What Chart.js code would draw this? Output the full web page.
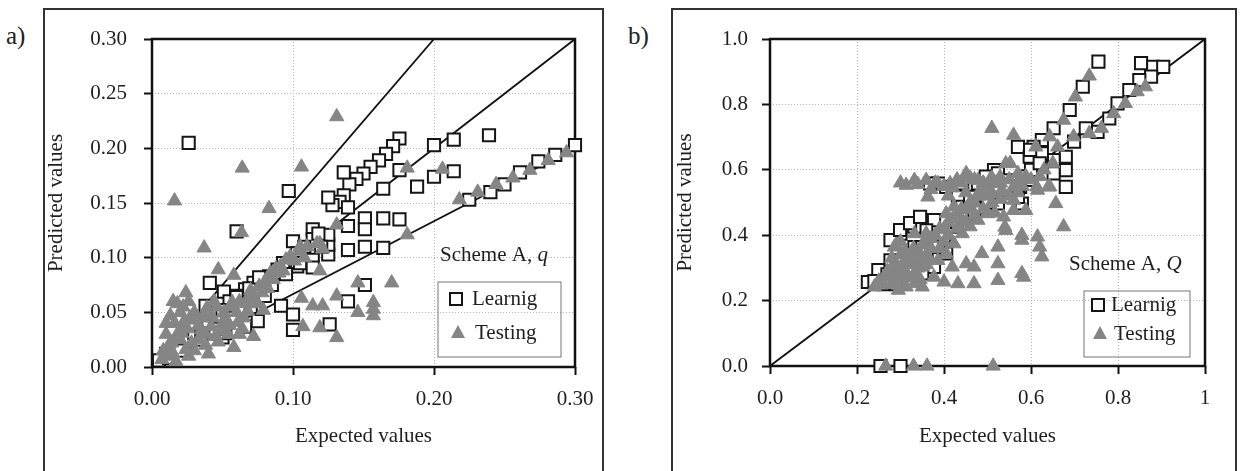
<!DOCTYPE html>
<html>
<head>
<meta charset="utf-8">
<script src="https://cdn.jsdelivr.net/npm/chart.js@4.4.1/dist/chart.umd.min.js"></script>
<style>
  html, body { margin: 0; padding: 0; background: #fff; }
  body { width: 1244px; height: 471px; position: relative; overflow: hidden;
         font-family: "Liberation Serif", "Times New Roman", serif; color: #222; }
  .panel { position: absolute; top: 8px; height: 470px; border: 2px solid #333;
           border-bottom: none; box-sizing: border-box; }
  .tag { position: absolute; top: 23px; font-size: 25px; line-height: 25px; }
  .wrap { position: absolute; top: 0; height: 471px; }
</style>
</head>
<body>
<div class="panel" style="left:43px;width:561px"></div>
<div class="panel" style="left:671px;width:566px"></div>
<div class="tag" style="left:6px">a)</div>
<div class="tag" style="left:628px">b)</div>
<div class="wrap" style="left:0;width:620px"><canvas id="chartA"></canvas></div>
<div class="wrap" style="left:620px;width:624px"><canvas id="chartB"></canvas></div>

<script>
// ---- panel a) : Scheme A, q ----
const ticksAx = ['0.00', '0.10', '0.20', '0.30'];
const ticksAy = ['0.00', '0.05', '0.10', '0.15', '0.20', '0.25', '0.30'];

const learnA = [
  [0.026,0.205],[0.097,0.161],[0.060,0.124],[0.041,0.077],[0.051,0.069],[0.239,0.212],
  [0.1755,0.209],[0.171,0.202],[0.166,0.195],[0.161,0.189],[0.155,0.183],[0.150,0.177],
  [0.145,0.172],[0.140,0.167],[0.136,0.178],[0.136,0.157],[0.133,0.151],[0.128,0.148],
  [0.139,0.146],[0.125,0.155],[0.200,0.203],[0.214,0.208],[0.214,0.179],[0.200,0.174],
  [0.1755,0.180],[0.188,0.165],[0.164,0.163],[0.151,0.136],[0.151,0.126],[0.164,0.136],
  [0.1755,0.135],[0.139,0.129],[0.164,0.109],[0.151,0.110],[0.139,0.107],[0.125,0.103],
  [0.125,0.112],[0.125,0.121],[0.114,0.126],[0.114,0.117],[0.114,0.098],[0.114,0.091],
  [0.100,0.115],[0.103,0.104],[0.103,0.092],[0.093,0.095],[0.089,0.089],[0.083,0.083],
  [0.078,0.080],[0.072,0.077],[0.066,0.071],[0.061,0.065],[0.055,0.060],[0.0915,0.056],
  [0.100,0.048],[0.100,0.034],[0.126,0.039],[0.139,0.060],[0.151,0.075],[0.075,0.042],
  [0.038,0.056],[0.050,0.027],[0.225,0.153],[0.240,0.160],[0.250,0.167],[0.261,0.178],
  [0.274,0.188],[0.286,0.194],[0.300,0.203],[0.005,0.006],[0.010,0.012],[0.015,0.016],
  [0.020,0.022],[0.025,0.027],[0.030,0.031],[0.035,0.036],[0.040,0.042],[0.045,0.047],
  [0.050,0.052],[0.060,0.064],[0.069,0.072],[0.076,0.082],[0.066,0.037],[0.052,0.031],
  [0.030,0.040],[0.020,0.015],[0.012,0.008],[0.035,0.025],[0.045,0.035],[0.058,0.045],
  [0.070,0.055],[0.080,0.065],[0.085,0.075],[0.095,0.085],[0.105,0.095],[0.108,0.110],
  [0.118,0.122],[0.120,0.110]
];

const testA = [
  [0.131,0.229],[0.064,0.182],[0.106,0.183],[0.016,0.152],[0.083,0.145],[0.0635,0.123],
  [0.037,0.109],[0.181,0.182],[0.206,0.181],[0.181,0.121],[0.131,0.130],[0.170,0.077],
  [0.146,0.077],[0.131,0.065],[0.119,0.088],[0.106,0.063],[0.107,0.037],[0.119,0.036],
  [0.131,0.027],[0.146,0.050],[0.157,0.059],[0.157,0.053],[0.157,0.047],[0.121,0.056],
  [0.114,0.056],[0.119,0.113],[0.105,0.110],[0.047,0.089],[0.058,0.084],[0.024,0.068],
  [0.013,0.047],[0.039,0.054],[0.051,0.050],[0.068,0.051],[0.079,0.052],[0.072,0.028],
  [0.058,0.018],[0.047,0.023],[0.035,0.034],[0.021,0.031],[0.014,0.022],[0.012,0.010],
  [0.028,0.022],[0.061,0.041],[0.057,0.059],[0.069,0.065],[0.076,0.074],[0.083,0.083],
  [0.091,0.092],[0.031,0.043],[0.042,0.037],[0.024,0.016],[0.007,0.007],[0.018,0.058],
  [0.020,0.050],[0.026,0.060],[0.016,0.040],[0.030,0.050],[0.036,0.045],[0.044,0.060],
  [0.050,0.040],[0.054,0.030],[0.064,0.035],[0.020,0.025],[0.030,0.015],[0.040,0.012],
  [0.010,0.030],[0.098,0.101],[0.104,0.106],[0.110,0.110],[0.117,0.113],[0.121,0.108],
  [0.108,0.100],[0.095,0.098],[0.088,0.090],[0.084,0.086],[0.101,0.097],[0.218,0.153],
  [0.231,0.160],[0.244,0.167],[0.256,0.173],[0.268,0.180],[0.281,0.189],[0.294,0.196],
  [0.008,0.015],[0.012,0.020],[0.015,0.012],[0.018,0.030],[0.022,0.040],[0.025,0.035],
  [0.027,0.045],[0.033,0.038],[0.033,0.025],[0.038,0.030],[0.040,0.050],[0.043,0.045],
  [0.046,0.055],[0.049,0.033],[0.052,0.045],[0.055,0.055],[0.060,0.050],[0.062,0.060],
  [0.065,0.045],[0.067,0.058],[0.070,0.070],[0.073,0.062],[0.075,0.058],[0.078,0.068],
  [0.080,0.078],[0.082,0.072],[0.086,0.080],[0.090,0.086],[0.093,0.088],[0.055,0.038],
  [0.045,0.028],[0.038,0.020],[0.026,0.010],[0.017,0.005],[0.062,0.030],[0.010,0.040],
  [0.015,0.060],[0.022,0.055]
];

const lineA1 = [[0, 0], [0.3, 0.3]];
const lineA2 = [[0, 0], [0.2, 0.3]];
const lineA3 = [[0, 0], [0.3, 0.2]];

// ---- panel b) : Scheme A, Q ----
const ticksBx = ['0.0', '0.2', '0.4', '0.6', '0.8', '1'];
const ticksBy = ['0.0', '0.2', '0.4', '0.6', '0.8', '1.0'];

const learnB = [
  [0.755,0.931],[0.719,0.854],[0.689,0.783],[0.652,0.727],[0.625,0.691],[0.606,0.670],
  [0.570,0.670],[0.853,0.926],[0.881,0.915],[0.904,0.915],[0.876,0.885],[0.849,0.874],
  [0.826,0.844],[0.799,0.803],[0.780,0.757],[0.753,0.716],[0.726,0.727],[0.699,0.686],
  [0.680,0.640],[0.680,0.599],[0.680,0.548],[0.652,0.630],[0.652,0.589],[0.625,0.609],
  [0.625,0.650],[0.597,0.640],[0.598,0.661],[0.602,0.569],[0.575,0.548],[0.515,0.599],
  [0.496,0.579],[0.487,0.548],[0.524,0.497],[0.487,0.487],[0.469,0.487],[0.451,0.466],
  [0.423,0.426],[0.396,0.405],[0.377,0.446],[0.359,0.415],[0.332,0.426],[0.300,0.405],
  [0.277,0.385],[0.277,0.323],[0.249,0.293],[0.225,0.257],[0.258,0.252],[0.377,0.303],
  [0.350,0.283],[0.332,0.364],[0.350,0.364],[0.386,0.364],[0.405,0.344],[0.405,0.548],
  [0.386,0.558],[0.368,0.558],[0.442,0.558],[0.478,0.558],[0.524,0.589],[0.542,0.568],
  [0.561,0.548],[0.579,0.497],[0.570,0.517],[0.533,0.538],[0.432,0.517],[0.442,0.487],
  [0.460,0.517],[0.299,0.416],[0.322,0.437],[0.345,0.456],[0.330,0.330],[0.360,0.350],
  [0.400,0.390],[0.430,0.440],[0.470,0.470],[0.500,0.500],[0.520,0.530],[0.550,0.550],
  [0.580,0.580],[0.600,0.600],[0.620,0.620],[0.300,0.300],[0.270,0.280],[0.240,0.260],
  [0.260,0.250],[0.290,0.250],[0.254,0],[0.300,0]
];

const testB = [
  [0.734,0.887],[0.702,0.823],[0.675,0.752],[0.510,0.727],[0.560,0.706],[0.643,0.701],
  [0.611,0.670],[0.661,0.670],[0.698,0.701],[0.734,0.711],[0.762,0.727],[0.790,0.772],
  [0.817,0.803],[0.844,0.839],[0.863,0.854],[0.675,0.426],[0.657,0.497],[0.620,0.364],
  [0.625,0.334],[0.615,0.395],[0.579,0.385],[0.579,0.283],[0.583,0.272],[0.524,0.262],
  [0.524,0.313],[0.524,0.364],[0.542,0.415],[0.537,0.456],[0.560,0.476],[0.487,0.344],
  [0.469,0.303],[0.451,0.313],[0.419,0.303],[0.432,0.252],[0.469,0.252],[0.400,0.257],
  [0.377,0.272],[0.332,0.568],[0.313,0.553],[0.359,0.568],[0.363,0.517],[0.386,0.558],
  [0.414,0.558],[0.451,0.589],[0.478,0.568],[0.505,0.568],[0.542,0.619],[0.570,0.589],
  [0.588,0.579],[0.615,0.538],[0.643,0.548],[0.588,0.476],[0.560,0.507],[0.500,0.466],
  [0.478,0.446],[0.460,0.426],[0.442,0.405],[0.423,0.374],[0.405,0.344],[0.386,0.323],
  [0.368,0.323],[0.350,0.303],[0.332,0.283],[0.304,0.272],[0.286,0.262],[0.258,0.252],
  [0.240,0.242],[0.295,0.232],[0.313,0.242],[0.332,0.252],[0.350,0.242],[0.286,0.364],
  [0.332,0.405],[0.359,0.405],[0.405,0.466],[0.423,0.487],[0.442,0.446],[0.460,0.487],
  [0.505,0.528],[0.533,0.538],[0.560,0.548],[0.552,0.620],[0.529,0.578],[0.579,0.400],
  [0.540,0.425],[0.517,0.468],[0.640,0.548],[0.613,0.548],[0.300,0.300],[0.320,0.330],
  [0.340,0.350],[0.360,0.380],[0.380,0.400],[0.400,0.420],[0.420,0.450],[0.440,0.480],
  [0.460,0.500],[0.480,0.530],[0.500,0.550],[0.520,0.560],[0.300,0.380],[0.280,0.300],
  [0.330,0.310],[0.360,0.340],[0.400,0.380],[0.440,0.560],[0.470,0.570],[0.400,0.550],
  [0.370,0.540],[0.300,0.560],[0.340,0.555],[0.380,0.560],[0.420,0.545],[0.430,0.570],
  [0.460,0.575],[0.490,0.560],[0.510,0.575],[0.530,0.560],[0.550,0.570],[0.570,0.560],
  [0.590,0.575],[0.410,0.520],[0.450,0.530],[0.480,0.520],[0.250,0.260],[0.270,0.270],
  [0.270,0.290],[0.290,0.280],[0.290,0.310],[0.310,0.290],[0.310,0.320],[0.310,0.350],
  [0.330,0.330],[0.330,0.360],[0.340,0.300],[0.350,0.330],[0.350,0.370],[0.360,0.310],
  [0.370,0.360],[0.370,0.390],[0.390,0.360],[0.390,0.420],[0.410,0.400],[0.410,0.440],
  [0.430,0.420],[0.430,0.460],[0.450,0.440],[0.450,0.480],[0.470,0.460],[0.470,0.500],
  [0.490,0.480],[0.490,0.520],[0.510,0.500],[0.510,0.530],[0.530,0.510],[0.550,0.520],
  [0.570,0.530],[0.580,0.550],[0.600,0.570],[0.620,0.580],[0.630,0.600],[0.650,0.620],
  [0.300,0.260],[0.320,0.270],[0.280,0.250],[0.260,0.250],[0.345,0.265],[0.280,0.330],
  [0.300,0.340],[0.290,0.370],[0.266,0],[0.330,0],[0.361,0],[0.513,0]
];

const lineB1 = [[0, 0], [1, 1]];

const seriesNames = ['Learnig', 'Testing'];

// ---- drawing ----
Chart.defaults.font.family = '"Liberation Serif", "Times New Roman", serif';
Chart.defaults.font.size = 21;
Chart.defaults.color = '#1e1e1e';

const SQ_COLOR = '#151515';
const TRI_COLOR = '#858585';
const TXT_FONT = '21px "Liberation Serif", "Times New Roman", serif';

const pts = list => list.map(p => ({ x: p[0], y: p[1] }));

// frame round the plot and the in-plot legend / scheme label
const panelDeco = {
  id: 'panelDeco',
  beforeDatasetsDraw(chart) {
    const { ctx, chartArea: a } = chart;
    ctx.save();
    ctx.lineWidth = 2.5;
    ctx.strokeStyle = '#111';
    ctx.strokeRect(a.left, a.top, a.right - a.left, a.bottom - a.top);
    ctx.restore();
  },
  afterDraw(chart, args, opts) {
    const { ctx } = chart;
    const lg = opts.legend;
    ctx.save();
    ctx.strokeStyle = '#777';
    ctx.lineWidth = 1;
    ctx.strokeRect(lg.x, lg.y, lg.w, lg.h);
    const sx = lg.x + lg.mx, sy1 = lg.y + lg.r1, sy2 = lg.y + lg.r2;
    ctx.fillStyle = '#fff';
    ctx.strokeStyle = SQ_COLOR;
    ctx.lineWidth = 2;
    ctx.fillRect(sx - 6, sy1 - 6, 12, 12);
    ctx.strokeRect(sx - 6, sy1 - 6, 12, 12);
    ctx.fillStyle = TRI_COLOR;
    ctx.beginPath();
    ctx.moveTo(sx + 2, sy2 - 8);
    ctx.lineTo(sx + 9, sy2 + 5);
    ctx.lineTo(sx - 5, sy2 + 5);
    ctx.closePath();
    ctx.fill();
    ctx.fillStyle = '#1e1e1e';
    ctx.font = TXT_FONT;
    ctx.textBaseline = 'middle';
    ctx.textAlign = 'left';
    ctx.fillText(seriesNames[0], lg.x + lg.tx, sy1);
    ctx.fillText(seriesNames[1], lg.x + lg.tx + 3, sy2);
    const sc = opts.scheme;
    ctx.fillText(sc.main, sc.x, sc.y);
    const w = ctx.measureText(sc.main).width;
    ctx.font = 'italic ' + TXT_FONT;
    ctx.fillText(sc.italic, sc.x + w, sc.y);
    ctx.restore();
  }
};

function makeScales(xr, yr, xLabels, yLabels, xStep, yStep, fit) {
  const grid = { color: '#b0b0b0', lineWidth: 1, tickColor: '#111', tickLength: 8, tickWidth: 2 };
  return {
    x: {
      type: 'linear', min: xr[0], max: xr[1],
      ticks: { stepSize: xStep, padding: 12, callback: (v, i) => xLabels[i] ?? v },
      grid: grid,
      border: { display: false, dash: [1, 2] },
      title: { display: true, text: 'Expected values', padding: { top: 0, bottom: 22 } },
      afterFit: s => { s.height = fit.h; }
    },
    y: {
      type: 'linear', min: yr[0], max: yr[1],
      ticks: { stepSize: yStep, padding: fit.yPad, callback: (v, i) => yLabels[i] ?? v },
      grid: grid,
      border: { display: false, dash: [1, 2] },
      title: { display: true, text: 'Predicted values', padding: { top: fit.tPad, bottom: 0 } },
      afterFit: s => { s.width = fit.w; }
    }
  };
}

function dsLearn(data) {
  return {
    type: 'scatter', label: seriesNames[0], data: pts(data), order: 1, clip: false,
    pointStyle: 'rect', pointRadius: 8.6, pointBackgroundColor: '#fff',
    pointBorderColor: SQ_COLOR, pointBorderWidth: 2
  };
}
function dsTest(data) {
  return {
    type: 'scatter', label: seriesNames[1], data: pts(data), order: 0, clip: false,
    pointStyle: 'triangle', pointRadius: 8.2, pointBackgroundColor: TRI_COLOR,
    pointBorderColor: TRI_COLOR, pointBorderWidth: 1
  };
}
function dsLine(data) {
  return {
    type: 'line', data: pts(data), order: 2, borderColor: '#111', borderWidth: 1.8,
    pointRadius: 0, fill: false, tension: 0
  };
}

const common = {
  responsive: true, maintainAspectRatio: false, animation: false,
  events: []
};

new Chart(document.getElementById('chartA'), {
  type: 'scatter',
  data: {
    datasets: [dsLearn(learnA), dsTest(testA), dsLine(lineA1), dsLine(lineA2), dsLine(lineA3)]
  },
  options: Object.assign({}, common, {
    layout: { padding: { left: 0, right: 45, top: 39, bottom: 0 } },
    scales: makeScales([0, 0.3], [0, 0.3], ticksAx, ticksAy, 0.1, 0.05,
      { w: 152, h: 104, yPad: 17, tPad: 44 }),
    plugins: {
      legend: { display: false }, tooltip: { enabled: false },
      panelDeco: {
        legend: { x: 438, y: 282, w: 123, h: 75, mx: 18, r1: 17, r2: 51, tx: 34 },
        scheme: { x: 440, y: 255, main: 'Scheme A, ', italic: 'q' }
      }
    }
  }),
  plugins: [panelDeco]
});

new Chart(document.getElementById('chartB'), {
  type: 'scatter',
  data: {
    datasets: [dsLearn(learnB), dsTest(testB), dsLine(lineB1)]
  },
  options: Object.assign({}, common, {
    layout: { padding: { left: 0, right: 39, top: 39, bottom: 0 } },
    scales: makeScales([0, 1], [0, 1], ticksBx, ticksBy, 0.2, 0.2,
      { w: 150, h: 105, yPad: 14, tPad: 53 }),
    plugins: {
      legend: { display: false }, tooltip: { enabled: false },
      panelDeco: {
        legend: { x: 464, y: 291, w: 106, h: 66, mx: 14, r1: 14, r2: 43, tx: 27 },
        scheme: { x: 449, y: 264, main: 'Scheme A, ', italic: 'Q' }
      }
    }
  }),
  plugins: [panelDeco]
});
</script>
</body>
</html>
